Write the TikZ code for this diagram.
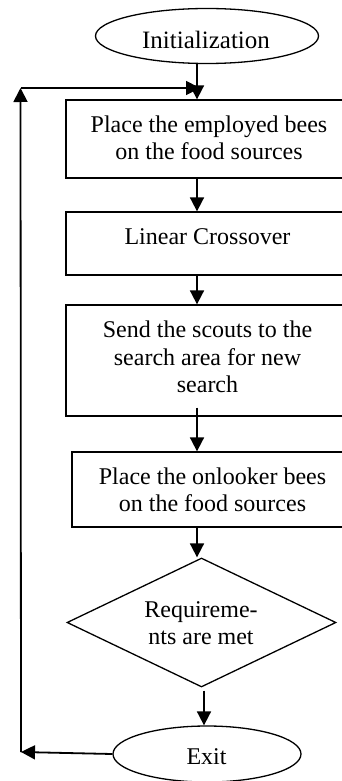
\documentclass[tikz,border=0pt]{standalone}
\usepackage{fontspec}
\setmainfont{Liberation Serif}
\usetikzlibrary{shapes.geometric,arrows.meta}
\begin{document}
\begin{tikzpicture}[x=1pt,y=-1pt,
  box/.style={draw,line width=1.3pt,rectangle,inner sep=0pt},
  oval/.style={draw,line width=1.3pt,ellipse,inner sep=0pt},
  dia/.style={draw,line width=1.3pt,diamond,inner sep=0pt},
  txt/.style={align=center,font=\fontsize{24}{27.5}\selectfont,inner sep=0pt},
  arr/.style={line width=1.8pt,-{Triangle[length=14pt,width=14pt]}}]
\useasboundingbox (0,0) rectangle (342,781);
\fill[white] (0,0) rectangle (342,781);
\clip (0,0) rectangle (342,781);
% shapes
\node[oval,minimum width=223pt,minimum height=55pt] (init) at (207,36) {};
\node[box,minimum width=279pt,minimum height=78pt] (b1) at (205.5,139) {};
\node[box,minimum width=279pt,minimum height=63pt] (b2) at (205.5,243.5) {};
\node[box,minimum width=279pt,minimum height=111pt] (b3) at (205.5,360.5) {};
\node[box,minimum width=273pt,minimum height=75pt] (b4) at (208.5,489.5) {};
\node[dia,minimum width=269pt,minimum height=129pt] (dia) at (201.5,622.5) {};
\node[oval,minimum width=188pt,minimum height=56pt] (exit) at (207,754) {};
% texts
\node[txt,font=\fontsize{25}{28}\selectfont] (tinit) at (206,40) {Initialization};
\node[txt] (t1) at (209,138) {Place the employed bees\\on the food sources};
\node[txt] (t2) at (207.5,237) {Linear Crossover};
\node[txt] (t3) at (207.5,357) {Send the scouts to the\\search area for new\\search};
\node[txt] (t4) at (212.5,490) {Place the onlooker bees\\on the food sources};
\node[txt] (td) at (201,623) {Requireme-\\nts are met};
\node[txt] (te) at (206.5,757) {Exit};
% helper coordinates
\coordinate (ax) at (197,0);
\coordinate (ax2) at (204,0);
\coordinate (bl) at (21,752);
\coordinate (tl) at (20.5,88);
\coordinate (jn) at (200,88);
% connectors
\draw[arr] (init.south -| ax) -- (b1.north -| ax);
\draw[arr] (b1.south -| ax) -- (b2.north -| ax);
\draw[arr] (b2.south -| ax) -- (b3.north -| ax);
\draw[arr] ([yshift=9pt]b3.south -| ax) -- (b4.north -| ax);
\draw[arr] (b4.south -| ax) -- (dia.north -| ax);
\draw[arr] ([yshift=-3pt]dia.south -| ax2) -- (exit.north -| ax2);
\draw[arr] (exit.west) -- (bl);
\draw[arr] (bl) -- (tl);
\draw[arr] (tl) -- (jn);
\end{tikzpicture}
\end{document}
